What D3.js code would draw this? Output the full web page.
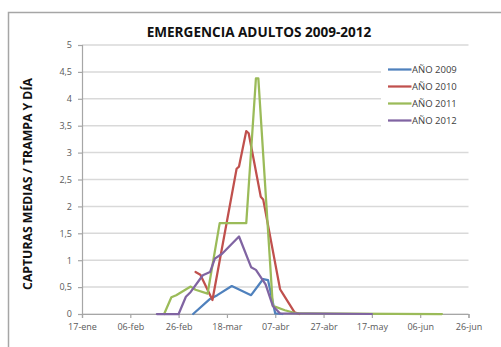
<!DOCTYPE html>
<html><head><meta charset="utf-8">
<script src="https://cdn.jsdelivr.net/npm/d3@7"></script>
<style>body{margin:0;background:#fff}svg{display:block}</style>
</head><body>
<svg id="chart" width="501" height="347"></svg>
<script>
// Adult emergence: mean captures per trap and day, one series per season (MM-DD on a common calendar)
const seriesNames = ["AÑO 2009", "AÑO 2010", "AÑO 2011", "AÑO 2012"];
const seriesColors = ["#4F81BD", "#C0504D", "#9BBB59", "#8064A2"];

const dates2009 = ["03-04","03-11","03-14","03-20","03-28","04-02","04-04","04-07","04-10"];
const values2009 = [0, 0.28, 0.35, 0.52, 0.35, 0.65, 0.63, 0.01, 0];

const dates2010 = ["03-05","03-07","03-12","03-22","03-23","03-26","03-27","04-01","04-02","04-09","04-10","04-15","04-17"];
const values2010 = [0.78, 0.73, 0.26, 2.70, 2.74, 3.40, 3.36, 2.18, 2.13, 0.46, 0.39, 0.03, 0];

const dates2011 = ["02-20","02-23","02-25","03-03","03-05","03-10","03-15","03-26","03-30","03-31","04-06","04-11","04-16","06-15"];
const values2011 = [0, 0.31, 0.35, 0.51, 0.45, 0.38, 1.69, 1.69, 4.38, 4.38, 0.15, 0.07, 0.01, 0];

const dates2012 = ["02-17","02-26","03-01","03-03","03-08","03-11","03-13","03-16","03-23","03-28","03-30","04-03","04-06","04-09","05-17"];
const values2012 = [0, 0, 0.32, 0.41, 0.72, 0.78, 1.03, 1.12, 1.44, 0.87, 0.82, 0.55, 0.15, 0.01, 0];

const yTickValues = [0, 0.5, 1, 1.5, 2, 2.5, 3, 3.5, 4, 4.5, 5];
const xTickLabels = ["17-ene","06-feb","26-feb","18-mar","07-abr","27-abr","17-may","06-jun","26-jun"];

const titleText = "EMERGENCIA ADULTOS 2009-2012";
const yTitleText = "CAPTURAS MEDIAS / TRAMPA Y DÍA";

const parseDay = d3.timeParse("%Y-%m-%d");
const toDate = md => parseDay("2010-" + md);

const seriesDates = [dates2009, dates2010, dates2011, dates2012];
const seriesValues = [values2009, values2010, values2011, values2012];
const series = seriesNames.map((name, i) => ({
  name, color: seriesColors[i],
  points: seriesDates[i].map((d, j) => ({date: toDate(d), value: seriesValues[i][j]}))
}));

const svg = d3.select("#chart");
const FONT = "'Open Sans', 'Noto Sans', sans-serif";

const plot = {left: 82, right: 468.5, top: 45, bottom: 314};
const xStart = toDate("01-17");
const xEnd = d3.timeDay.offset(xStart, 160);
const x = d3.scaleTime().domain([xStart, xEnd]).range([plot.left, plot.right]);
const y = d3.scaleLinear().domain([0, 5]).range([plot.bottom, plot.top]);

// chart frame
svg.append("rect").attr("x", 8.5).attr("y", 12.5).attr("width", 520).attr("height", 360)
  .attr("fill", "#fff").attr("stroke", "#a6a6a6").attr("stroke-width", 1.5);

// fit a text node to a given width by adjusting its font size
function fitWidth(sel, width) {
  const node = sel.node();
  const w = node.getComputedTextLength();
  const fs = parseFloat(sel.attr("font-size"));
  if (w > 0) sel.attr("font-size", fs * width / w);
}

// title
svg.append("text").attr("x", 259).attr("y", 37).attr("text-anchor", "middle")
  .attr("font-family", FONT).attr("font-weight", "bold").attr("font-size", 13)
  .attr("fill", "#111").text(titleText).call(fitWidth, 225);

// gridlines
svg.append("g").selectAll("line").data(yTickValues).join("line")
  .attr("x1", plot.left).attr("x2", plot.right)
  .attr("y1", d => y(d)).attr("y2", d => y(d))
  .attr("stroke", "#d9d9d9").attr("stroke-width", 1.5);

// y axis
const xTickDates = xTickLabels.map((_, i) => d3.timeDay.offset(xStart, i * 20));
const yAxis = d3.axisLeft(y).tickValues(yTickValues).tickSize(4).tickPadding(6)
  .tickFormat(d => String(d).replace(".", ","));
const gy = svg.append("g").attr("transform", `translate(${plot.left},0)`).call(yAxis);
gy.select(".domain").attr("stroke", "#a6a6a6").attr("stroke-width", 1.2);
gy.selectAll(".tick line").attr("stroke", "#a6a6a6").attr("stroke-width", 1.2);
gy.selectAll(".tick text").attr("font-family", FONT).attr("font-size", 9).attr("fill", "#595959");

// x axis
const xAxis = d3.axisBottom(x).tickValues(xTickDates).tickSize(4).tickPadding(6)
  .tickFormat((d, i) => xTickLabels[i]);
const gx = svg.append("g").attr("transform", `translate(0,${plot.bottom})`).call(xAxis);
gx.select(".domain").attr("stroke", "#a6a6a6").attr("stroke-width", 1.2);
gx.selectAll(".tick line").attr("stroke", "#a6a6a6").attr("stroke-width", 1.2);
gx.selectAll(".tick text").attr("font-family", FONT).attr("font-size", 9).attr("fill", "#595959");

// y title
const yt = svg.append("text").attr("transform", "translate(32,184) rotate(-90)")
  .attr("text-anchor", "middle").attr("font-family", FONT).attr("font-weight", "bold")
  .attr("font-size", 10.5).attr("fill", "#111").text(yTitleText);
fitWidth(yt, 212);

// series lines
const line = d3.line().x(d => x(d.date)).y(d => y(d.value));
svg.append("g").selectAll("path").data(series).join("path")
  .attr("d", d => line(d.points)).attr("fill", "none")
  .attr("stroke", d => d.color).attr("stroke-width", 2.25)
  .attr("stroke-linejoin", "round").attr("stroke-linecap", "round");

// legend (white box over the gridlines)
const lg = svg.append("g");
lg.append("rect").attr("x", 381).attr("y", 58).attr("width", 90).attr("height", 78).attr("fill", "#fff");
const items = lg.selectAll("g.item").data(series).join("g").attr("class", "item")
  .attr("transform", (d, i) => `translate(388,${69.5 + i * 17})`);
items.append("line").attr("x1", 0).attr("x2", 23.5).attr("y1", 0).attr("y2", 0)
  .attr("stroke", d => d.color).attr("stroke-width", 2.25);
items.append("text").attr("x", 24).attr("y", 0).attr("dy", "0.35em")
  .attr("font-family", FONT).attr("font-size", 9.5).attr("fill", "#404040")
  .text(d => d.name);
</script>
</body></html>
